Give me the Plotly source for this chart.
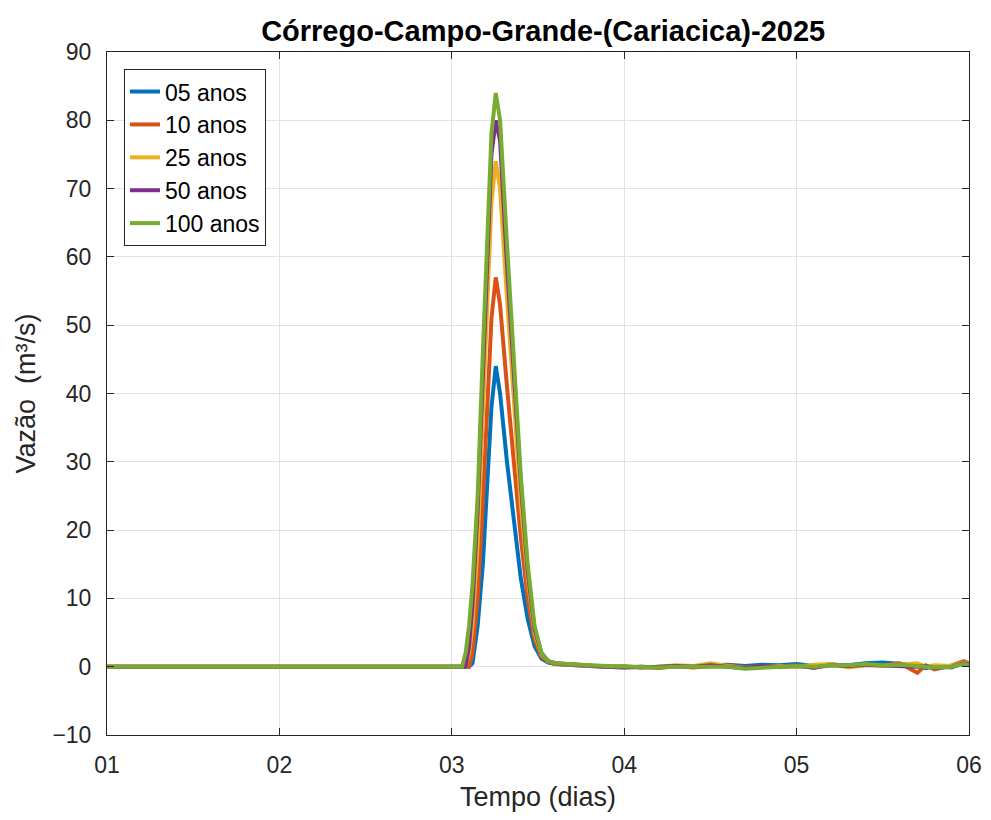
import plotly.graph_objects as go

# time in days
tempo = [1.00, 3.06, 3.08, 3.10, 3.12, 3.15, 3.18, 3.20, 3.23, 3.255, 3.28, 3.32, 3.36,
         3.40, 3.44, 3.48, 3.52, 3.56, 3.60, 3.70, 3.80, 3.90, 4.00, 4.10, 4.20, 4.30,
         4.40, 4.50, 4.60, 4.70, 4.80, 4.90, 5.00, 5.10, 5.20, 5.30, 5.40, 5.50, 5.60,
         5.70, 5.75, 5.80, 5.90, 5.97, 6.00]

q05 = [0, 0, 0, 0, 0.5, 6, 15, 24, 38, 44, 40, 30, 21,
       13, 7, 3, 1.2, 0.6, 0.4, 0.2, 0.1, 0.0, -0.1, 0.0, -0.1, 0.1,
       0.0, 0.2, 0.3, 0.1, 0.3, 0.2, 0.4, 0.1, 0.3, 0.2, 0.5, 0.6, 0.4,
       0.2, -0.2, 0.1, -0.1, 0.6, 0.3]
q10 = [0, 0, 0, 0, 2, 10, 24, 35, 51, 57, 53, 41, 30,
       19, 10, 4, 1.5, 0.7, 0.4, 0.2, 0.1, 0.0, -0.1, 0.0, -0.2, 0.1,
       -0.1, 0.1, 0.2, -0.1, 0.1, 0.0, 0.2, -0.2, 0.4, 0.0, 0.3, 0.2, 0.5,
       -0.9, 0.2, -0.4, 0.2, 0.8, 0.5]
q25 = [0, 0, 0, 2, 6, 18, 36, 50, 68, 74, 70, 54, 38,
       24, 13, 5, 1.8, 0.8, 0.5, 0.3, 0.1, 0.0, 0.1, -0.1, 0.0, 0.2,
       0.1, 0.5, 0.1, -0.2, 0.0, 0.1, 0.0, 0.3, 0.4, -0.1, 0.2, 0.1, 0.3,
       0.5, 0.0, 0.2, 0.1, 0.6, 0.4]
q50 = [0, 0, 0, 3, 9, 23, 42, 55, 75, 80, 77, 59, 42,
       27, 14, 5.5, 2, 0.8, 0.5, 0.3, 0.1, 0.0, 0.0, -0.1, 0.0, 0.1,
       0.0, 0.2, 0.0, -0.2, 0.1, 0.0, 0.1, -0.1, 0.2, 0.1, 0.3, 0.2, 0.2,
       0.0, 0.1, -0.2, 0.0, 0.5, 0.3]
q100 = [0, 0, 2, 6, 12, 25, 46, 58, 78, 84, 80, 62, 44,
        28, 15, 6, 2, 0.8, 0.5, 0.3, 0.2, 0.1, 0.0, -0.1, -0.1, 0.0,
        0.0, 0.1, 0.0, -0.3, -0.2, 0.0, 0.1, 0.0, 0.2, 0.2, 0.4, 0.2, 0.3,
        0.1, 0.0, -0.1, 0.0, 0.4, 0.2]

series = [("05 anos", q05, "#0072BD"), ("10 anos", q10, "#D95319"),
          ("25 anos", q25, "#EDB120"), ("50 anos", q50, "#7E2F8E"),
          ("100 anos", q100, "#77AC30")]

x_ticks = [1, 2, 3, 4, 5, 6]
x_labels = ["01", "02", "03", "04", "05", "06"]
y_ticks = [-10, 0, 10, 20, 30, 40, 50, 60, 70, 80, 90]

fig = go.Figure()
for name, q, c in series:
    fig.add_trace(go.Scatter(x=tempo, y=q, mode="lines", name=name,
                             line=dict(color=c, width=4)))

font = "Liberation Sans, Arial, sans-serif"
axis_common = dict(showline=True, linecolor="#262626", linewidth=1, mirror="ticks",
                   ticks="inside", ticklen=7, tickcolor="#262626",
                   showgrid=True, gridcolor="#e3e3e3", gridwidth=1, zeroline=False,
                   tickfont=dict(family=font, size=23, color="#262626"))

W, H = 975, 804
fig.update_layout(
    width=W, height=H,
    margin=dict(l=99, r=14, t=44, b=77, autoexpand=False),
    paper_bgcolor="white", plot_bgcolor="white",
    title=dict(text="<b>Córrego-Campo-Grande-(Cariacica)-2025</b>", x=0.506,
               xanchor="center", xref="paper", y=1 - 23 / H, yanchor="middle",
               font=dict(family=font, size=29, color="#000000")),
    xaxis=dict(range=[1, 6], tickvals=x_ticks, ticktext=x_labels,
               title=dict(text="Tempo (dias)", font=dict(family=font, size=27, color="#262626"),
                          standoff=12),
               ticklabelstandoff=9,
               **axis_common),
    yaxis=dict(range=[-10, 90], tickvals=y_ticks,
               title=dict(text="Vazão  (m³/s)", font=dict(family=font, size=27, color="#262626"),
                          standoff=8),
               ticklabelstandoff=10,
               **axis_common),
    legend=dict(x=0.0197, y=0.975, xanchor="left", yanchor="top",
                bgcolor="white", bordercolor="#262626", borderwidth=1,
                font=dict(family=font, size=23, color="#000000"),
                tracegroupgap=0),
    showlegend=True,
)

fig.write_html("out.html")
